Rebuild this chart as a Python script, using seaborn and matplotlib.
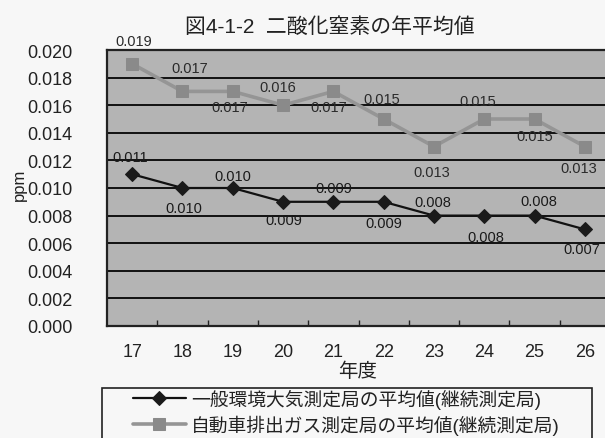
import numpy as np
import pandas as pd
import matplotlib
matplotlib.use("Agg")
import matplotlib.pyplot as plt
import matplotlib.patches as mpatches
import seaborn as sns

# ---- data ----
years = ["17", "18", "19", "20", "21", "22", "23", "24", "25", "26"]
general = [0.011, 0.010, 0.010, 0.009, 0.009, 0.009, 0.008, 0.008, 0.008, 0.007]
roadside = [0.019, 0.017, 0.017, 0.016, 0.017, 0.015, 0.013, 0.015, 0.015, 0.013]
label_general = "一般環境大気測定局の平均値(継続測定局)"
label_roadside = "自動車排出ガス測定局の平均値(継続測定局)"
title = "図4-1-2  二酸化窒素の年平均値"
yticks = [0.000, 0.002, 0.004, 0.006, 0.008, 0.010, 0.012, 0.014, 0.016, 0.018, 0.020]

# ---- layout (pixel offsets for data labels: dx, dy with y up) ----
off_roadside = [(2, 23), (7, 23), (-3, -16), (-5, 18), (-5, -16),
                (-2, 20), (-2, -25), (-6, 18), (0, -17), (-6, -21)]
off_general = [(-2, 17), (1, -20), (0, 12), (1, -18), (0, 14),
               (0, -21), (-1, 14), (2, -21), (4, 15), (-3, -20)]

sns.set_theme(style="white")
plt.rcParams['font.family'] = ['Liberation Sans', 'Noto Sans CJK JP', 'DejaVu Sans']

W, H = 605, 439
fig = plt.figure(figsize=(W / 100, H / 100), dpi=100, facecolor="#f7f7f7")
ax = fig.add_axes([107 / W, (H - 327) / H, 503 / W, 276 / H])
ax.set_facecolor("#b4b4b4")

x = np.arange(len(years))
df = pd.DataFrame({"x": np.concatenate([x, x]),
                   "v": general + roadside,
                   "s": [label_general] * len(x) + [label_roadside] * len(x)})

sns.lineplot(data=df[df.s == label_roadside], x="x", y="v", ax=ax,
             color="#959595", lw=2.6, marker="s", markersize=9,
             markerfacecolor="#8a8a8a", markeredgecolor="#8a8a8a",
             label=label_roadside, zorder=3)
sns.lineplot(data=df[df.s == label_general], x="x", y="v", ax=ax,
             color="#111111", lw=1.6, marker="D", markersize=7,
             markerfacecolor="#1a1a1a", markeredgecolor="#1a1a1a",
             label=label_general, zorder=4)

for xi, v, (dx, dy) in zip(x, roadside, off_roadside):
    ax.annotate(f"{v:.3f}", (xi, v), xytext=(dx, dy), textcoords="offset pixels",
                ha="center", va="center", fontsize=10.5, color="#2a2a2a",
                annotation_clip=False, zorder=5)
for xi, v, (dx, dy) in zip(x, general, off_general):
    ax.annotate(f"{v:.3f}", (xi, v), xytext=(dx, dy), textcoords="offset pixels",
                ha="center", va="center", fontsize=10.5, color="#1a1a1a",
                annotation_clip=False, zorder=5)

ax.set_xlim(-0.5, len(years) - 0.5)
ax.set_ylim(0, 0.020)
ax.set_yticks(yticks)
ax.set_yticklabels([f"{t:.3f}" for t in yticks])
ax.set_xticks(x)
ax.set_xticklabels(years)
ax.set_xticks(x[:-1] + 0.5, minor=True)
ax.tick_params(axis="x", which="major", length=0, pad=12, labelsize=13, labelcolor="#222222")
ax.tick_params(axis="x", which="minor", length=4, direction="in", color="#222222", width=1, bottom=True)
ax.tick_params(axis="y", length=0, pad=25, labelsize=13, labelcolor="#222222")
ax.yaxis.grid(True, color="#111111", lw=1.4)
ax.xaxis.grid(False)
ax.set_axisbelow(True)
for side in ["left", "bottom", "top"]:
    ax.spines[side].set_color("#222222")
    ax.spines[side].set_linewidth(1.6)
ax.spines["right"].set_visible(False)
ax.set_xlabel("")
ax.set_ylabel("")
ax.legend_.remove()

fig.text(330 / W, (H - 27) / H, title, ha="center", va="center", fontsize=15, color="#222222")
fig.text(19 / W, (H - 185) / H, "ppm", ha="center", va="center", rotation=90, fontsize=12, color="#222222")
fig.text(358 / W, (H - 372) / H, "年度", ha="center", va="center", fontsize=14, color="#222222")

# legend frame
fig.patches.append(mpatches.Rectangle((102 / W, -0.05), (592 - 102) / W, (H - 389) / H + 0.05,
                                      transform=fig.transFigure, fill=False,
                                      edgecolor="#222222", lw=1.2))
handles, labels = ax.get_legend_handles_labels()
order = [labels.index(label_general), labels.index(label_roadside)]
leg = fig.legend([handles[i] for i in order], [labels[i] for i in order],
                 loc="upper left", bbox_to_anchor=(133 / W, (H - 390) / H),
                 frameon=False, fontsize=13.5, handlelength=2.8, handletextpad=0.3,
                 labelspacing=0.3, borderpad=0, borderaxespad=0, labelcolor="#222222")

fig.savefig("out.png", dpi=100, facecolor=fig.get_facecolor())
